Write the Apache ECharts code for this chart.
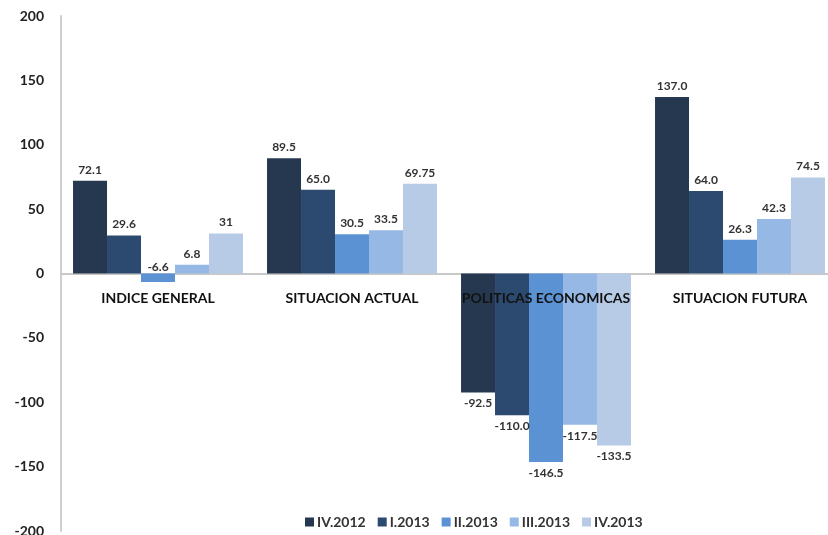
<!DOCTYPE html>
<html>
<head>
<meta charset="utf-8">
<script src="https://cdn.jsdelivr.net/npm/echarts@6/dist/echarts.min.js"></script>
<style>html,body{margin:0;padding:0;background:#fff}#c{width:828px;height:535px}</style>
</head>
<body>
<div id="c"></div>
<script>
const categories = ['INDICE GENERAL', 'SITUACION ACTUAL', 'POLITICAS ECONOMICAS', 'SITUACION FUTURA'];
const seriesNames = ['IV.2012', 'I.2013', 'II.2013', 'III.2013', 'IV.2013'];
const s_IV2012 = [72.1, 89.5, -92.5, 137.0];
const s_I2013 = [29.6, 65.0, -110.0, 64.0];
const s_II2013 = [-6.6, 30.5, -146.5, 26.3];
const s_III2013 = [6.8, 33.5, -117.5, 42.3];
const s_IV2013 = [31, 69.75, -133.5, 74.5];
const labels_IV2012 = ['72.1', '89.5', '-92.5', '137.0'];
const labels_I2013 = ['29.6', '65.0', '-110.0', '64.0'];
const labels_II2013 = ['-6.6', '30.5', '-146.5', '26.3'];
const labels_III2013 = ['6.8', '33.5', '-117.5', '42.3'];
const labels_IV2013 = ['31', '69.75', '-133.5', '74.5'];
const yTicks = [-200, -150, -100, -50, 0, 50, 100, 150, 200];

const colors = ['#263850', '#2c4a70', '#5b92d4', '#95b8e5', '#b7cbe6'];
const allValues = [s_IV2012, s_I2013, s_II2013, s_III2013, s_IV2013];
const allLabels = [labels_IV2012, labels_I2013, labels_II2013, labels_III2013, labels_IV2013];
const FONT = 'Lato, "Open Sans", sans-serif';

const series = seriesNames.map((name, i) => ({
  name: name,
  type: 'bar',
  xAxisIndex: 0,
  barGap: '0%',
  barCategoryGap: '12.4%',
  itemStyle: { color: colors[i] },
  data: allValues[i].map((v, j) => ({
    value: v,
    label: {
      show: true,
      position: (v < -20) ? 'bottom' : 'top',
      distance: (v < 0 && v > -20) ? 0 : 5,
      formatter: allLabels[i][j],
      color: '#333',
      fontWeight: 'bold',
      fontSize: 12,
      fontFamily: FONT
    }
  }))
}));

const chart = echarts.init(document.getElementById('c'));
chart.setOption({
  animation: false,
  color: colors,
  grid: { left: 61, right: -9, top: 16, bottom: 4, containLabel: false, outerBoundsMode: 'none' },
  legend: {
    data: seriesNames,
    left: 300,
    bottom: 1,
    icon: 'rect',
    itemWidth: 9,
    itemHeight: 9,
    itemGap: 12,
    textStyle: { color: '#333', fontWeight: 'bold', fontSize: 14, fontFamily: FONT, padding: [0, 0, 0, -2] }
  },
  xAxis: [{
    type: 'category',
    data: categories,
    position: 'bottom',
    axisLine: { onZero: true, lineStyle: { color: '#c8c8c8', width: 2 } },
    axisTick: { show: false },
    axisLabel: { show: false }
  }, {
    type: 'category',
    data: categories,
    position: 'bottom',
    offset: -257,
    z: 10,
    axisLine: { show: false, onZero: false },
    axisTick: { show: false },
    axisLabel: { interval: 0, margin: 17, color: '#111', fontWeight: 'bold', fontSize: 14, fontFamily: FONT }
  }],
  yAxis: {
    type: 'value',
    min: yTicks[0],
    max: yTicks[yTicks.length - 1],
    interval: 50,
    splitLine: { show: false },
    axisLine: { show: true, lineStyle: { color: '#cfcfcf', width: 2 } },
    axisTick: { show: false },
    axisLabel: { margin: 17, color: '#222', fontWeight: 'bold', fontSize: 14, fontFamily: FONT }
  },
  series: series
});
</script>
</body>
</html>
